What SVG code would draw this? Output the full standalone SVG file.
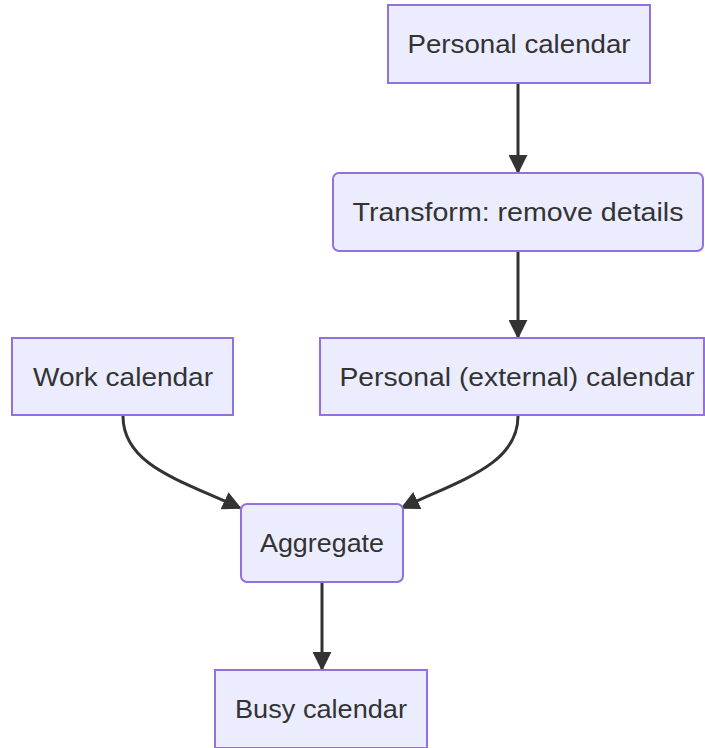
<svg xmlns="http://www.w3.org/2000/svg" width="705" height="748" viewBox="0 0 705 748">
<style>
.node rect{fill:#ECECFF;stroke:#9370DB;stroke-width:2}
.node text{font-family:"Trebuchet MS","Liberation Sans","DejaVu Sans",sans-serif;font-size:25px;fill:#333;text-anchor:middle;dominant-baseline:central}
.edge{fill:none;stroke:#333;stroke-width:3}
</style>
<defs>
<marker id="arr" markerUnits="userSpaceOnUse" viewBox="0 0 10 10" refX="9" refY="5" markerWidth="19" markerHeight="19" orient="auto">
<path d="M0,0 L10,5 L0,10 z" fill="#333"/>
</marker>
</defs>
<rect width="705" height="748" fill="#fff"/>
<g id="edges">
<path class="edge" d="M518,84 L518,172" marker-end="url(#arr)"/>
<path class="edge" d="M518,251 L518,337" marker-end="url(#arr)"/>
<path class="edge" d="M123,416 C123,465 180,480 240,508" marker-end="url(#arr)"/>
<path class="edge" d="M518,416 C518,465 460,480 402,508" marker-end="url(#arr)"/>
<path class="edge" d="M322,583 L322,669" marker-end="url(#arr)"/>
</g>
<g id="personal" class="node"><rect x="388" y="5" width="262" height="78"/><text x="519" y="44" textLength="223" lengthAdjust="spacingAndGlyphs">Personal calendar</text></g>
<g id="transform" class="node"><rect x="333" y="173" width="370" height="78" rx="6"/><text x="518" y="212" textLength="331" lengthAdjust="spacingAndGlyphs">Transform: remove details</text></g>
<g id="work" class="node"><rect x="12" y="338" width="221" height="77"/><text x="123" y="377" textLength="180" lengthAdjust="spacingAndGlyphs">Work calendar</text></g>
<g id="external" class="node"><rect x="320" y="338" width="384" height="77"/><text x="517" y="377" textLength="355" lengthAdjust="spacingAndGlyphs">Personal (external) calendar</text></g>
<g id="aggregate" class="node"><rect x="241" y="504" width="162" height="78" rx="6"/><text x="322" y="543" textLength="124" lengthAdjust="spacingAndGlyphs">Aggregate</text></g>
<g id="busy" class="node"><rect x="215" y="670" width="212" height="78"/><text x="321" y="709" textLength="172" lengthAdjust="spacingAndGlyphs">Busy calendar</text></g>
</svg>
